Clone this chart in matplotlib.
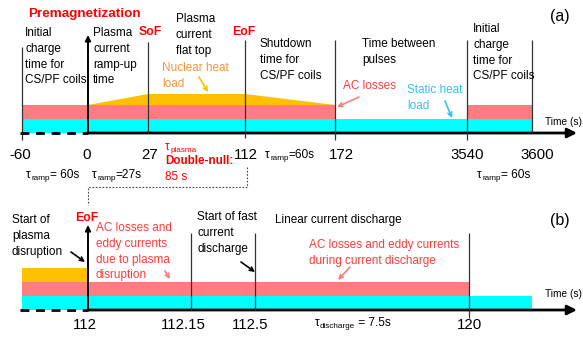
import matplotlib
matplotlib.use("Agg")
import matplotlib.pyplot as plt
from matplotlib.patches import Polygon, FancyArrowPatch

plt.rcParams['font.family'] = ['Liberation Sans', 'DejaVu Sans']

# ---------------- data (texts / labels) ----------------
ticks_a = ['-60', '0', '27', '112', '172', '3540', '3600']
ticks_b = ['112', '112.15', '112.5', '120']
phases_a = ['Initial\ncharge\ntime for\nCS/PF coils',
            'Plasma\ncurrent\nramp-up\ntime',
            'Plasma\ncurrent\nflat top',
            'Shutdown\ntime for\nCS/PF coils',
            'Time between\npulses',
            'Initial\ncharge\ntime for\nCS/PF coils']
events_a = ['SoF', 'EoF']
loads_a = ['Nuclear heat\nload', 'AC losses', 'Static heat\nload']
ramps_a = [('ramp', '= 60s'), ('ramp', '=27s'), ('ramp', '=60s'), ('ramp', '= 60s')]
plasma_a = ('plasma', 'Double-null:', '85 s')
phases_b = ['Start of\nplasma\ndisruption', 'Start of fast\ncurrent\ndischarge',
            'Linear current discharge']
loads_b = ['AC losses and\neddy currents\ndue to plasma\ndisruption',
           'AC losses and eddy currents\nduring current discharge']
discharge_b = ('discharge', ' = 7.5s')

# ---------------- layout (pixel coordinates) ----------------
W, H = 583, 337
fig = plt.figure(figsize=(W / 100, H / 100), dpi=100)
ax = fig.add_axes([0, 0, 1, 1])
ax.set_xlim(0, W)
ax.set_ylim(H, 0)
ax.axis('off')

ORANGE = '#FFC000'
PINK = '#FF7C80'
CYAN = '#00FFFF'
RED = '#FF0000'
LRED = '#FF3B3B'
TXT_OR = '#F7943C'
TXT_CY = '#2EC4F2'
LINE = '#333333'

FS = 8.5      # body text (pt)
FT = 10.8     # tick labels
LS = 15.8     # px between lines


def txt(x, y, s, size=FS, color='black', weight='normal', ha='left', ls=LS):
    for i, line in enumerate(s.split('\n')):
        ax.text(x, y + i * ls, line, fontsize=size, color=color, weight=weight,
                ha=ha, va='baseline')


def tau(x, y, sub, rest, color='black', size=8.6):
    t = ax.text(x, y, '\u03c4', fontsize=size, color=color, va='baseline', ha='left')
    fig.canvas.draw()
    bb = t.get_window_extent()
    x1 = x + bb.width + 0.3
    t2 = ax.text(x1, y + 2.5, sub, fontsize=size * 0.68, color=color, va='baseline', ha='left')
    bb2 = t2.get_window_extent()
    x2 = x1 + bb2.width
    if rest:
        ax.text(x2, y, rest, fontsize=size, color=color, va='baseline', ha='left')


def vline(x, y0, y1, lw=0.9, color=LINE):
    ax.plot([x, x], [y0, y1], color=color, lw=lw, solid_capstyle='butt')


def arrow(x0, y0, x1, y1, color, lw=1.0, ms=7, style='->'):
    ax.add_patch(FancyArrowPatch((x0, y0), (x1, y1), arrowstyle=style,
                                 mutation_scale=ms, color=color, lw=lw,
                                 shrinkA=0, shrinkB=0))


def time_axis(y, x_arrow_tip):
    ax.plot([20, 88], [y, y], color='black', lw=2.0, ls=(0, (3.2, 2.4)),
            solid_capstyle='butt', dash_capstyle='butt')
    ax.add_patch(FancyArrowPatch((88, y), (x_arrow_tip, y), arrowstyle='-|>',
                                 mutation_scale=14, color='black', lw=2.0,
                                 shrinkA=0, shrinkB=0))


# ================= panel (a) =================
ya = 133
xa = [22, 88, 148, 245, 335, 467, 532]      # positions of ticks_a
tick_cx_a = [20, 87, 150, 246, 341, 467, 537]

ax.fill_between([xa[0], xa[6]], 119, ya, color=CYAN, lw=0)
ax.fill_between([xa[0], xa[4]], 105, 119, color=PINK, lw=0)
ax.fill_between([xa[5], xa[6]], 105, 119, color=PINK, lw=0)
ax.add_patch(Polygon([(xa[1], 105), (xa[2], 94), (xa[3], 94), (xa[4], 105)],
                     closed=True, color=ORANGE, lw=0))

vline(xa[0], 47, 140)
vline(xa[2], 42, 133)
vline(xa[3], 40, 138)
vline(xa[4], 40, 140)
vline(xa[5], 40, 140)
vline(xa[6], 40, 133)

time_axis(ya, 577)
ax.add_patch(FancyArrowPatch((88, ya), (88, 35), arrowstyle='-|>', mutation_scale=8,
                             color='black', lw=1.4, shrinkA=0, shrinkB=0))

for lab, cx in zip(ticks_a, tick_cx_a):
    ax.text(cx, 159, lab, fontsize=FT, ha='center', va='baseline')

txt(545, 125, 'Time (s)', size=7.3)
txt(560, 21, '(a)', size=11.5, ha='center')
txt(28, 17, 'Premagnetization', size=9.7, color=RED, weight='bold')

phase_pos_a = [(25, 36), (93, 36), (176, 22), (260, 47), (362, 47), (473, 32)]
for s, (x, y) in zip(phases_a, phase_pos_a):
    txt(x, y, s)

txt(139, 35, events_a[0], size=8.8, color=RED, weight='bold')
txt(232, 35, events_a[1], size=8.8, color=RED, weight='bold')

txt(162, 71, loads_a[0], color=TXT_OR)
txt(343, 89, loads_a[1], color=LRED)
txt(407, 93, loads_a[2], color=TXT_CY)
arrow(199, 77, 208, 92, ORANGE, lw=1.2)
arrow(359, 97, 337, 107, PINK, lw=1.2)
arrow(445, 101, 452, 118, TXT_CY, lw=1.2)

tau(26, 178, *ramps_a[0])
tau(92, 178, *ramps_a[1])
tau(265, 158, *ramps_a[2])
tau(477, 178, *ramps_a[3])
tau(165, 150, plasma_a[0], '', color=RED)
txt(165, 164, plasma_a[1], size=8.4, color=RED, weight='bold')
txt(165, 180, plasma_a[2], color=RED)

ax.plot([247, 247, 88, 88], [167, 187, 187, 205], color='#444444', lw=0.8,
        ls=(0, (1.5, 1.5)))

# ================= panel (b) =================
yb = 310
xb = [88, 191, 255, 469, 532]
tick_cx_b = [85, 183, 250, 469]

ax.fill_between([22, xb[4]], 296, yb, color=CYAN, lw=0)
ax.fill_between([22, xb[3]], 282, 296, color=PINK, lw=0)
ax.fill_between([22, xb[0]], 268, 282, color=ORANGE, lw=0)

vline(xb[1], 233, yb)
vline(xb[2], 233, yb)
vline(xb[3], 233, 318)

time_axis(yb, 577)
ax.add_patch(FancyArrowPatch((88, yb), (88, 225), arrowstyle='-|>', mutation_scale=8,
                             color='black', lw=1.4, shrinkA=0, shrinkB=0))

for lab, cx in zip(ticks_b, tick_cx_b):
    ax.text(cx, 329, lab, fontsize=FT, ha='center', va='baseline')

txt(545, 297, 'Time (s)', size=7.3)
txt(560, 225, '(b)', size=11.5, ha='center')
txt(75, 221, 'EoF', size=8.8, color=RED, weight='bold')

txt(12, 223, phases_b[0])
txt(197, 220, phases_b[1])
txt(275, 223, phases_b[2])
txt(96, 231, loads_b[0], color=LRED)
txt(309, 248, loads_b[1], color=LRED)

arrow(71, 252, 85, 262, 'black', lw=1.2)
arrow(241, 262, 255, 272, 'black', lw=1.2)
arrow(165, 271, 170, 279, PINK, lw=1.2)
arrow(350, 267, 338, 280, PINK, lw=1.2)

tau(315, 326, *discharge_b)

fig.savefig('out.png', dpi=100)
